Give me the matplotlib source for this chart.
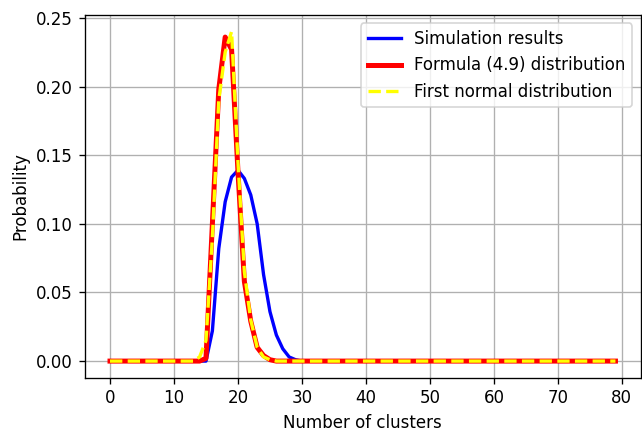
import numpy as np
import matplotlib
matplotlib.use("Agg")
from matplotlib import pyplot as plt

# number of clusters, 0..79
clusters = np.arange(80)

# values, nonzero part only
sim_start = 15
sim_vals = [0.0, 0.022, 0.082, 0.116, 0.134, 0.139, 0.133, 0.121, 0.100,
            0.063, 0.036, 0.019, 0.009, 0.003, 0.001, 0.0]
formula_start = 14
formula_vals = [0.0, 0.002, 0.100, 0.198, 0.236, 0.227, 0.138, 0.058, 0.029,
                0.010, 0.004, 0.001, 0.0]
normal_start = 13
normal_vals = [0.0, 0.003, 0.015, 0.09, 0.19, 0.225, 0.240, 0.145, 0.065,
               0.030, 0.010, 0.003, 0.001, 0.0]

sim = np.zeros(len(clusters))
sim[sim_start:sim_start + len(sim_vals)] = sim_vals
formula = np.zeros(len(clusters))
formula[formula_start:formula_start + len(formula_vals)] = formula_vals
normal = np.zeros(len(clusters))
normal[normal_start:normal_start + len(normal_vals)] = normal_vals

fig, ax = plt.subplots(figsize=(6.42 / 1.2, 4.32 / 1.2), dpi=120)
fig.subplots_adjust(left=0.132, right=0.998, top=0.965, bottom=0.126)

ax.plot(clusters, sim, color='blue', lw=2, label='Simulation results')
ax.plot(clusters, formula, color='red', lw=3, label='Formula (4.9) distribution')
ax.plot(clusters, normal, color='yellow', lw=2, ls='--', label='First normal distribution')

ax.set_xticks(np.arange(0, 81, 10))
ax.set_yticks([0.0, 0.05, 0.10, 0.15, 0.20, 0.25])
ax.set_xlabel('Number of clusters')
ax.set_ylabel('Probability')
ax.grid(True)
ax.legend(loc='upper right')

plt.savefig('out.png', dpi=120)
